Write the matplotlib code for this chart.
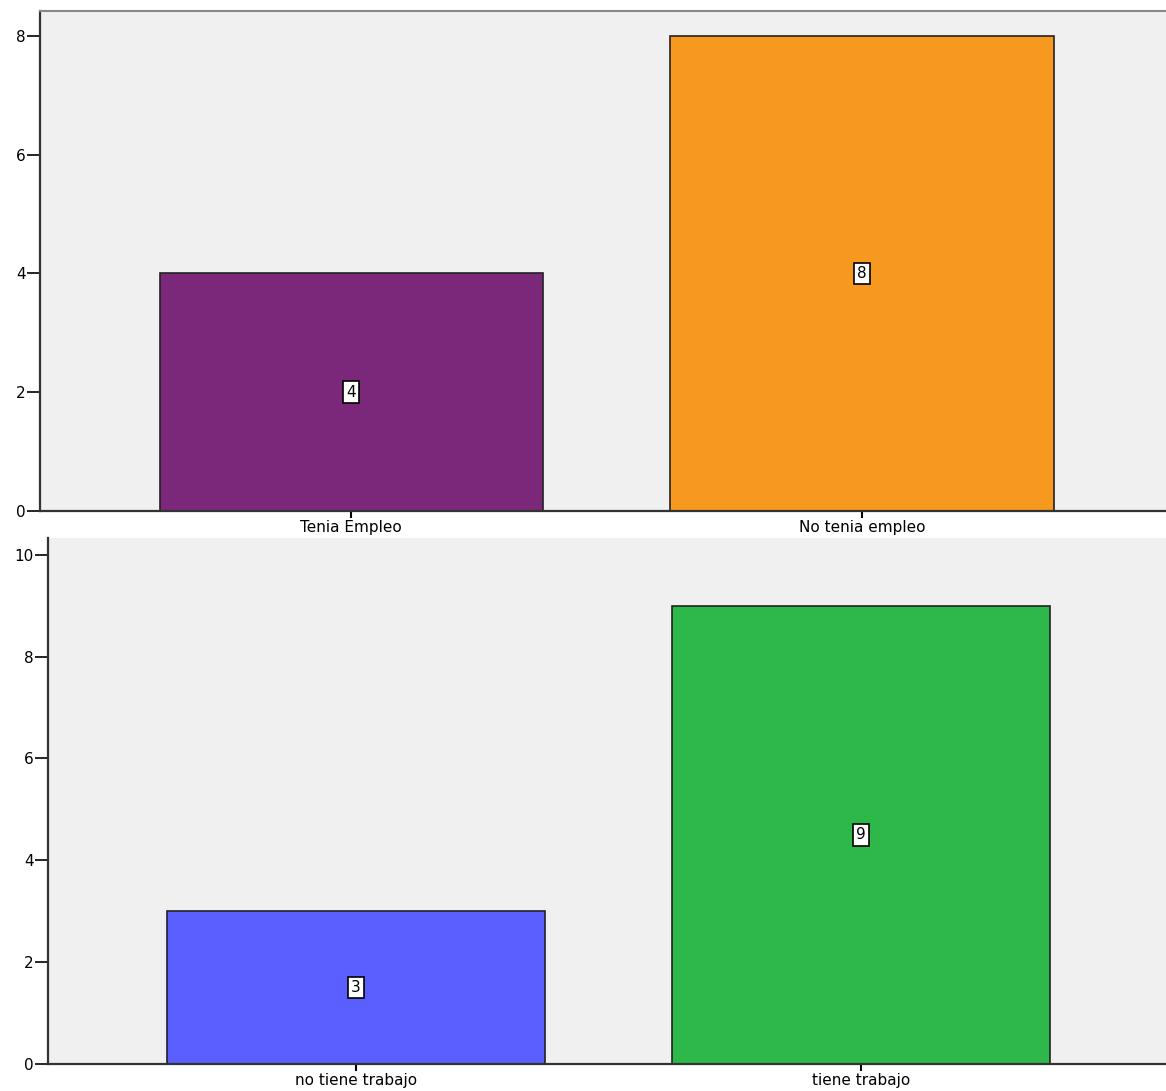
import matplotlib.pyplot as plt

# datos
cats_top = ["Tenia Empleo", "No tenia empleo"]
vals_top = [4, 8]
colors_top = ["#7B287A", "#F8991F"]

cats_bot = ["no tiene trabajo", "tiene trabajo"]
vals_bot = [3, 9]
colors_bot = ["#5C5FFF", "#2EB84A"]

plt.rcParams['font.family'] = ['DejaVu Sans']

W, H = 1166, 1091
fig = plt.figure(figsize=(W / 100, H / 100), dpi=100)

ax1 = fig.add_axes([40 / W, (H - 511) / H, (W - 40) / W, 500 / H])
ax2 = fig.add_axes([48 / W, (H - 1064) / H, (W - 48) / W, 526 / H])


def draw(ax, cats, vals, colors, ylim, xlim, yticks, top_spine):
    ax.set_facecolor("#F0F0F0")
    xs = range(len(cats))
    ax.bar(xs, vals, width=0.75, color=colors, edgecolor="#222222", linewidth=1.2, zorder=2)
    for x, v in zip(xs, vals):
        ax.text(x, v / 2, str(v), ha="center", va="center", fontsize=11, zorder=3,
                bbox=dict(boxstyle="square,pad=0.22", fc="white", ec="black", lw=1.2))
    ax.set_xticks(list(xs))
    ax.set_xticklabels(cats, fontsize=11)
    ax.set_yticks(yticks)
    ax.tick_params(axis="y", labelsize=11, length=9.5, width=1.2, pad=1)
    ax.tick_params(axis="x", length=5, width=1.5, pad=1.5)
    ax.set_xlim(*xlim)
    ax.set_ylim(*ylim)
    ax.spines["right"].set_visible(False)
    ax.spines["left"].set_color("#333333")
    ax.spines["bottom"].set_color("#333333")
    ax.spines["left"].set_linewidth(1.6)
    ax.spines["bottom"].set_linewidth(1.6)
    if top_spine:
        ax.spines["top"].set_color("#888888")
        ax.spines["top"].set_linewidth(1.5)
    else:
        ax.spines["top"].set_visible(False)


draw(ax1, cats_top, vals_top, colors_top, (0, 8.42), (-0.609, 1.595), [0, 2, 4, 6, 8], True)
draw(ax2, cats_bot, vals_bot, colors_bot, (0, 10.33), (-0.61, 1.604), [0, 2, 4, 6, 8, 10], False)

fig.savefig("out.png", dpi=100)
